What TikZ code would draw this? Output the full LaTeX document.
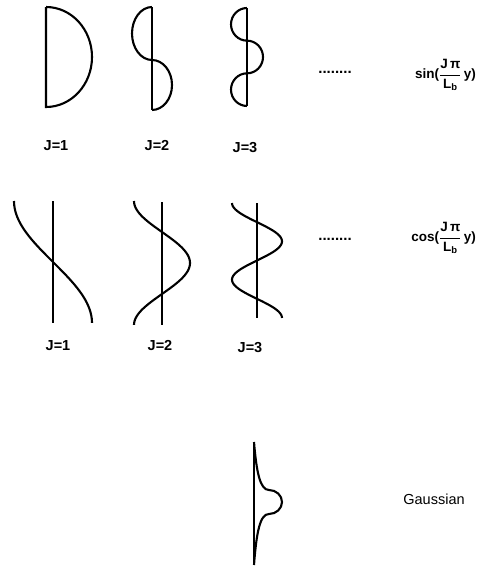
\documentclass[tikz,border=0pt]{standalone}
\usepackage{fontspec}
\setmainfont{Liberation Sans}
\begin{document}
\begin{tikzpicture}[x=1pt,y=-1pt,
  wave/.style={line width=2.1pt},
  lbl/.style={font=\fontsize{14.5}{17}\selectfont\bfseries},
  fn/.style={font=\fontsize{13.5}{16}\selectfont\bfseries,inner sep=0pt},
  dotrow/.style={font=\fontsize{15}{17}\selectfont\bfseries,inner sep=0pt}]
\useasboundingbox (0,0) rectangle (477,570);
% sine modes
\draw[wave] (46,7) -- (46,107) arc[start angle=90,end angle=-90,x radius=46,y radius=50];
\draw[wave] (152,7) -- (152,110);
\draw[wave] (152,7) arc[start angle=-90,end angle=-270,x radius=20,y radius=26.5]
  arc[start angle=-90,end angle=90,x radius=20,y radius=25];
\draw[wave] (247,8) -- (247,106);
\draw[wave] (247,8) arc[start angle=-90,end angle=-270,x radius=16,y radius=16.33]
  arc[start angle=-90,end angle=90,x radius=16,y radius=16.33]
  arc[start angle=-90,end angle=-270,x radius=16,y radius=16.33];
\node[lbl] (s1) at (56,146) {J=1};
\node[lbl] (s2) at (157,146) {J=2};
\node[lbl] (s3) at (245,148) {J=3};
\node[dotrow] (sdots) at (335,72) {........};
\node[fn,anchor=east] (sinlbl) at (476,75) {sin($\displaystyle\frac{\mbox{J\,π}}{\mbox{L\textsubscript{b}}}$\,y)};
% cosine modes
\draw[wave] (53,201) -- (53,323);
\draw[wave] plot[domain=0:1,samples=50] ({53-39*cos(180*\x)},{201+122*\x});
\draw[wave] (162,202) -- (162,325);
\draw[wave] plot[domain=0:1,samples=70] ({162-28*cos(360*\x)},{201+124*\x});
\draw[wave] (257,203) -- (257,318);
\draw[wave] plot[domain=0:1,samples=90] ({257-25*cos(540*\x)},{203+115*\x});
\node[lbl] (c1) at (58,346) {J=1};
\node[lbl] (c2) at (160,346) {J=2};
\node[lbl] (c3) at (250,348) {J=3};
\node[dotrow] (cdots) at (335,239) {........};
\node[fn,anchor=east] (coslbl) at (476,238) {cos($\displaystyle\frac{\mbox{J\,π}}{\mbox{L\textsubscript{b}}}$\,y)};
% gaussian
\draw[wave] (254,442) -- (254,565);
\draw[wave] (254,442) .. controls (256.5,472) and (260,490) .. (269,490)
  arc[start angle=-90,end angle=90,x radius=13,y radius=12]
  .. controls (260,514) and (256.5,532) .. (254,565);
\node[font=\fontsize{14.5}{17}\selectfont] (gauss) at (434,499) {Gaussian};
\end{tikzpicture}
\end{document}
